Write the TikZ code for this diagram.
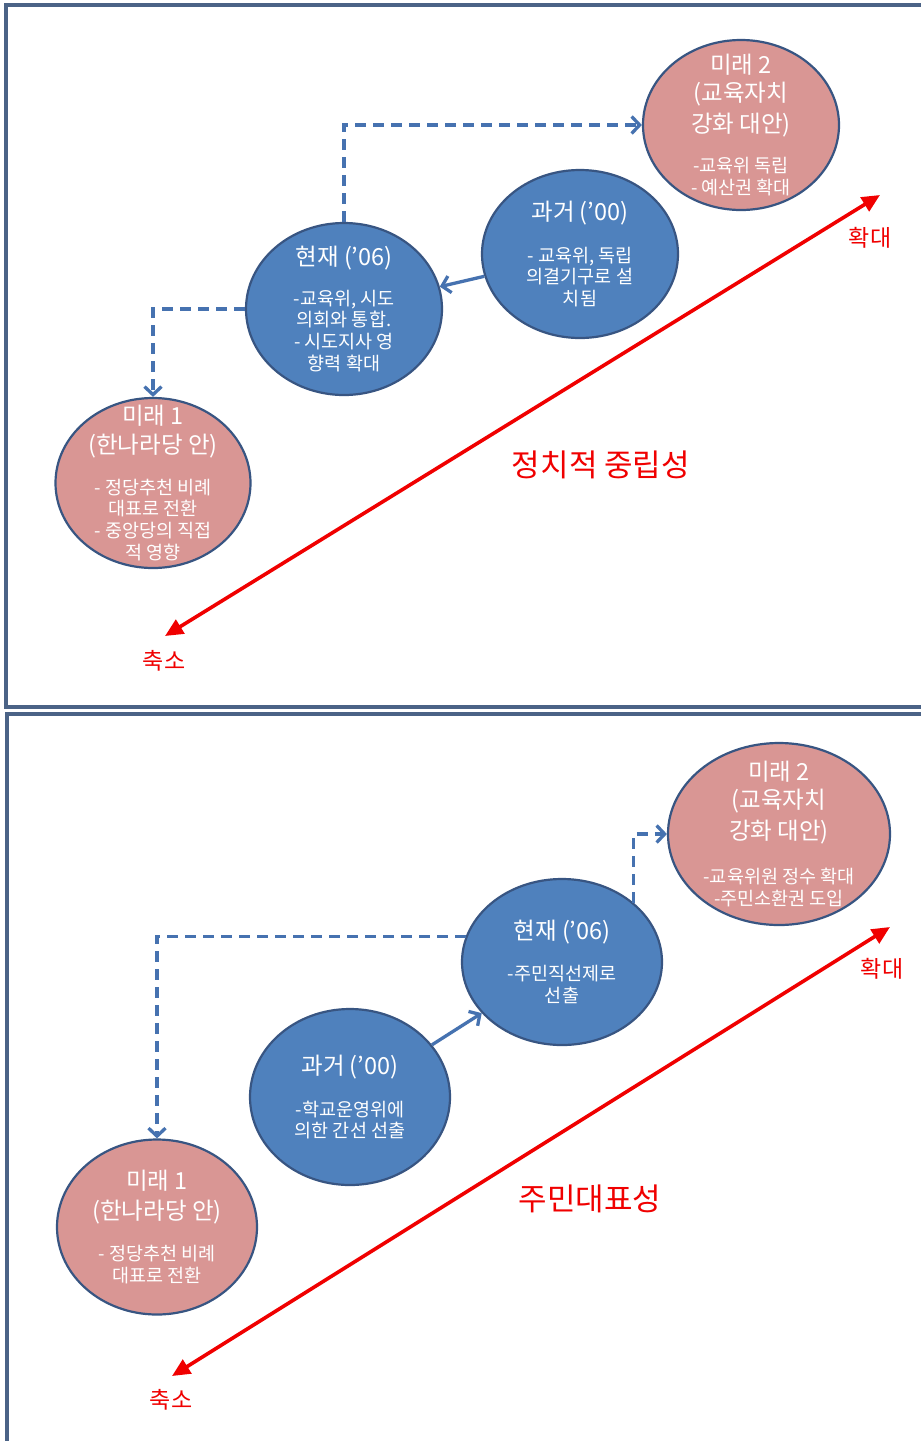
\documentclass[tikz,border=0pt]{standalone}
\usepackage{fontspec}
\setmainfont{Noto Sans CJK KR}
\usetikzlibrary{arrows.meta,shapes.geometric}
\definecolor{bluefill}{RGB}{79,129,189}
\definecolor{blueedge}{RGB}{56,85,130}
\definecolor{pinkfill}{RGB}{217,150,148}
\definecolor{frameblue}{RGB}{75,99,134}
\definecolor{linkblue}{RGB}{70,114,176}
\definecolor{axisred}{RGB}{240,0,0}
\newcommand\bubbletitle[1]{{\fontsize{23.5}{28}\selectfont #1}}
\begin{document}
\begin{tikzpicture}[x=1pt,y=-1pt,
 bubble/.style={ellipse, draw=blueedge, line width=2.2pt, inner sep=0pt},
 pastbubble/.style={bubble, fill=bluefill},
 futurebubble/.style={bubble, fill=pinkfill},
 bubbletext/.style={text=white, align=center, inner sep=0pt, font=\fontsize{18.5}{21.7}\selectfont},
 dashlink/.style={draw=linkblue, line width=3.3pt, dash pattern=on 11pt off 7pt, -{Straight Barb[length=8pt,width=17pt]}},
 solidlink/.style={draw=linkblue, line width=3.3pt, -{Straight Barb[length=8pt,width=17pt]}},
 axisarrow/.style={draw=axisred, line width=3.6pt, {Triangle[length=18pt,width=16pt]}-{Triangle[length=18pt,width=16pt]}},
 axislabel/.style={text=axisred, font=\fontsize{23}{26}\selectfont},
 themelabel/.style={text=axisred, font=\fontsize{31}{34}\selectfont},
 panel/.style={draw=frameblue, line width=3.4pt}
]
\useasboundingbox (0,0) rectangle (921,1441);
\clip (0,0) rectangle (921,1441);
\fill[white] (0,0) rectangle (921,1441);
% panels
\draw[panel] (6,5) rectangle (950,707);
\draw[panel] (7,714) rectangle (950,1470);

% ---------- top panel ----------
\coordinate (ax1a) at (880,195);
\coordinate (ax1b) at (165,636);
\draw[axisarrow] (ax1b) -- (ax1a);
\node[axislabel] (grow1) at (870,238) {확대};
\node[axislabel] (shrink1) at (164,661) {축소};
\node[themelabel] (theme1) at (601,465) {정치적 중립성};

\node[futurebubble, minimum width=196pt, minimum height=170pt] (m2a) at (741,125) {};
\node[bubbletext] (m2at) at (m2a.center)
 {\bubbletitle{미래 2}\\[6pt]\bubbletitle{(교육자치}\\[6pt]\bubbletitle{강화 대안)}\\[19pt]-교육위 독립\\- 예산권 확대};
\node[pastbubble, minimum width=196pt, minimum height=168pt] (g1) at (580,254) {};
\node[bubbletext] (g1t) at (g1.center)
 {\bubbletitle{과거 (’00)}\\[20pt]- 교육위, 독립\\의결기구로 설\\치됨};
\node[pastbubble, minimum width=196pt, minimum height=172pt] (h1) at (344,309) {};
\node[bubbletext] (h1t) at (h1.center)
 {\bubbletitle{현재 (’06)}\\[18pt]-교육위, 시도\\의회와 통합.\\- 시도지사 영\\향력 확대};
\node[futurebubble, minimum width=195pt, minimum height=170pt] (m1a) at (153,483) {};
\node[bubbletext] (m1at) at (m1a.center)
 {\bubbletitle{미래 1}\\[7pt]\bubbletitle{(한나라당 안)}\\[19pt]- 정당추천 비례\\대표로 전환\\- 중앙당의 직접\\적 영향};

\draw[solidlink] (g1) -- (h1);
\draw[dashlink] (h1.north) |- (m2a.west);
\draw[dashlink] (h1.west) -| (m1a.north);

% ---------- bottom panel ----------
\coordinate (ax2a) at (890,927);
\coordinate (ax2b) at (172,1376);
\draw[axisarrow] (ax2b) -- (ax2a);
\node[axislabel] (grow2) at (882,969) {확대};
\node[axislabel] (shrink2) at (171,1400) {축소};
\node[themelabel] (theme2) at (590,1199) {주민대표성};

\node[futurebubble, minimum width=222pt, minimum height=182pt] (m2b) at (779,834) {};
\node[bubbletext] (m2bt) at (m2b.center)
 {\bubbletitle{미래 2}\\[6pt]\bubbletitle{(교육자치}\\[6pt]\bubbletitle{강화 대안)}\\[22pt]-교육위원 정수 확대\\-주민소환권 도입};
\node[pastbubble, minimum width=200pt, minimum height=166pt] (h2) at (562,962) {};
\node[bubbletext] (h2t) at (h2.center)
 {\bubbletitle{현재 (’06)}\\[19pt]-주민직선제로\\선출};
\node[pastbubble, minimum width=200pt, minimum height=176pt] (g2) at (350,1097) {};
\node[bubbletext] (g2t) at (g2.center)
 {\bubbletitle{과거 (’00)}\\[20pt]-학교운영위에\\의한 간선 선출};
\node[futurebubble, minimum width=200pt, minimum height=175pt] (m1b) at (157,1227) {};
\node[bubbletext] (m1bt) at (m1b.center)
 {\bubbletitle{미래 1}\\[8pt]\bubbletitle{(한나라당 안)}\\[20pt]- 정당추천 비례\\대표로 전환};

\draw[solidlink] (g2) -- (h2);
\draw[dashlink] (h2.north east) |- (m2b.west);
\draw[dashlink] (h2.165) -| (m1b.north);
\end{tikzpicture}
\end{document}
